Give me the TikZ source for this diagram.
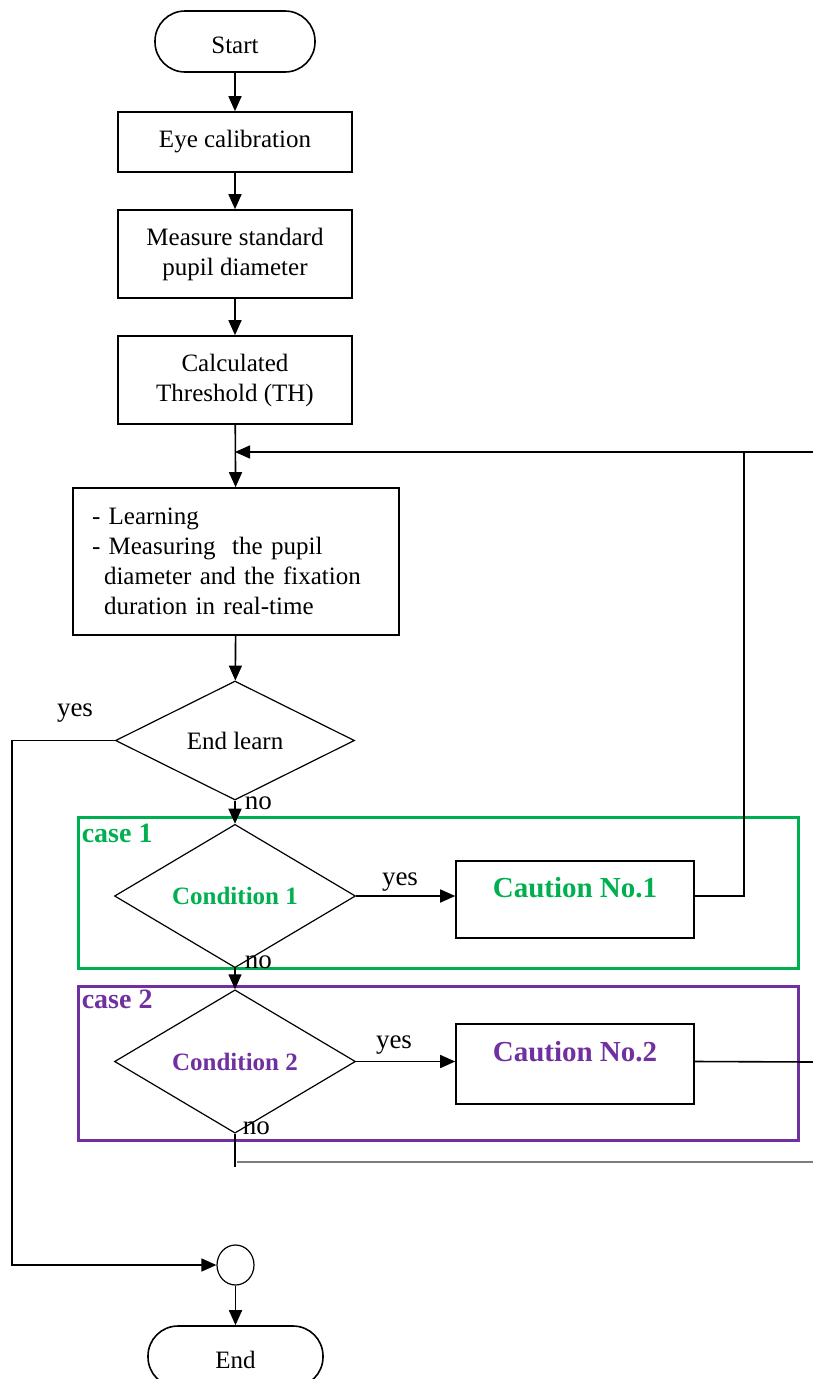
\documentclass[tikz,border=0pt]{standalone}
\usepackage{fontspec}
\setmainfont{Liberation Serif}
\usetikzlibrary{arrows.meta,shapes.geometric}
\definecolor{casegreen}{RGB}{0,176,80}
\definecolor{casepurple}{RGB}{112,48,160}
\definecolor{railgray}{RGB}{125,125,125}
\begin{document}
\begin{tikzpicture}[x=1pt,y=-1pt,
  line width=1.6pt,
  every node/.style={font=\fontsize{25}{30}\selectfont, inner sep=0pt},
  terminal/.style={draw, rectangle, rounded corners=30pt, minimum height=61pt, text height=24pt},
  procbox/.style={draw, rectangle, minimum width=234pt, align=center},
  decision/.style={draw, diamond, minimum width=241pt, minimum height=118pt, line width=1.2pt},
  caution/.style={draw, rectangle, minimum width=238pt, text depth=25pt,
    font=\bfseries\fontsize{29}{30}\selectfont},
  caseframe/.style={draw, rectangle, line width=3pt, minimum width=720pt},
  casetitle/.style={anchor=west, font=\bfseries\fontsize{28}{30}\selectfont},
  lbl/.style={font=\fontsize{27}{30}\selectfont},
  flow/.style={-{Triangle[length=15pt,width=13pt]}},
]
\useasboundingbox (0,0) rectangle (813,1379);
\clip (0,0) rectangle (813,1379);

% main column
\node[terminal, minimum width=160pt] (start) at (235,41.5) {Start};
\node[procbox, minimum height=60pt] (eye) at (235,142) {Eye calibration};
\node[procbox, minimum height=88pt] (meas) at (235,254) {Measure standard\\pupil diameter};
\node[procbox, minimum height=88pt] (calc) at (235,380) {Calculated\\Threshold (TH)};
\node[draw, rectangle, minimum width=326pt, minimum height=147pt,
      inner xsep=19pt, text width=288pt, align=left] (learn) at (236,561.5)
  {- Learning\\- Measuring\ \ the pupil\\\hspace*{12pt}diameter and the fixation\\\hspace*{12pt}duration in real-time};
\node[decision, minimum width=239pt, minimum height=119pt] (d0) at (235,740.5) {End learn};

% case frames
\node[caseframe, draw=casegreen, minimum height=151pt] (frame1) at (438,892.5) {};
\node[caseframe, draw=casepurple, minimum height=154pt] (frame2) at (438,1063) {};
\node[casetitle, text=casegreen] (case1) at (81,833) {case 1};
\node[casetitle, text=casepurple] (case2) at (81,999) {case 2};

% conditions and cautions
\node[decision, text=casegreen, font=\bfseries\fontsize{25}{30}\selectfont] (d1) at (235,896) {Condition 1};
\node[caution, text=casegreen, minimum height=77pt] (c1) at (575,899.5) {Caution No.1};
\node[decision, text=casepurple, font=\bfseries\fontsize{25}{30}\selectfont] (d2) at (235,1061.5) {Condition 2};
\node[caution, text=casepurple, minimum height=80pt] (c2) at (575,1064) {Caution No.2};

% end
\node[draw, ellipse, minimum width=37pt, minimum height=40pt, line width=1.2pt] (join) at (235.5,1265) {};
\node[terminal, minimum width=175pt] (end) at (235.5,1356.5) {End};

% branch labels
\node[lbl] (yes0) at (75,713) {yes};
\node[lbl, anchor=west] (no0) at (244,803) {no};
\node[lbl] (yes1) at (400,882) {yes};
\node[lbl, anchor=west] (no1) at (244,962) {no};
\node[lbl] (yes2) at (394,1045) {yes};
\node[lbl, anchor=west] (no2) at (242,1128) {no};

% route points
\coordinate (merge) at (235,452);
\coordinate (loopx) at (744,452);
\coordinate (rt1) at (813,452);
\coordinate (rt2) at (813,1062);
\coordinate (nojoin) at (235,1167);
\coordinate (railstart) at (237,1162);
\coordinate (rt3) at (813,1162);
\coordinate (leftrail) at (12,1265);

% connectors
\draw[flow] (start) -- (eye);
\draw[flow] (eye) -- (meas);
\draw[flow] (meas) -- (calc);
\draw[flow] (calc) -- (learn);
\draw[flow] (rt1) -- (merge);
\draw[flow] (learn) -- (d0);
\draw[flow] (d0.south) -- (d1.north);
\draw[flow] (d1.south) -- (d2.north);
\draw[flow] (d1.east) -- (d1.east -| c1.west);
\draw[flow] (d2.east) -- (d2.east -| c2.west);
\draw (c1.east |- d1.east) -| (loopx);
\draw (c2.east |- d2.east) -- (rt2);
\draw (d2.south) -- (nojoin);
\draw[railgray, line width=2.5pt] (railstart) -- (rt3);
\draw[flow] (d0.west) -| (leftrail) -- (join.west);
\draw[flow] (join) -- (end);
\end{tikzpicture}
\end{document}
